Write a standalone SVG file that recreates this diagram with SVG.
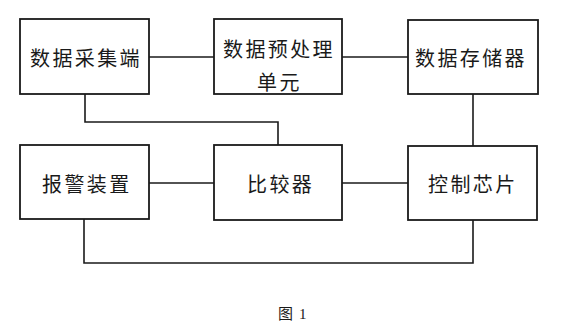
<svg xmlns="http://www.w3.org/2000/svg" width="569" height="334" viewBox="0 0 569 334">
<style>
.box{fill:#fff;stroke:#1a1a1a;stroke-width:1.8}
.ln{fill:none;stroke:#1a1a1a;stroke-width:1.6}
.t{font-family:"Noto Sans CJK SC","Noto Sans CJK JP",sans-serif;font-size:20px;fill:#1a1a1a;letter-spacing:2.4px}
.cap{font-family:"Liberation Serif","Noto Sans CJK SC",serif;font-size:15px;fill:#1a1a1a}
</style>
<rect width="569" height="334" fill="#fff"/>
<g id="connectors">
<line class="ln" x1="149" y1="57" x2="214" y2="57"/>
<line class="ln" x1="342" y1="57" x2="408" y2="57"/>
<polyline class="ln" points="85,94 85,122 278,122 278,145"/>
<line class="ln" x1="473" y1="94" x2="473" y2="146"/>
<line class="ln" x1="149" y1="183" x2="214" y2="183"/>
<line class="ln" x1="342" y1="183" x2="408" y2="183"/>
<polyline class="ln" points="84,219 84,263 473,263 473,220"/>
</g>
<g id="n1"><rect class="box" x="20" y="19" width="129" height="75"/><text class="t" x="30" y="65.5">数据采集端</text></g>
<g id="n2"><rect class="box" x="214" y="19" width="128" height="75"/><text class="t" x="223" y="56.5">数据预处理</text><text class="t" x="257" y="89.5">单元</text></g>
<g id="n3"><rect class="box" x="408" y="20" width="130" height="74"/><text class="t" x="415" y="65.5">数据存储器</text></g>
<g id="n4"><rect class="box" x="20" y="145" width="129" height="74"/><text class="t" x="42" y="191.5">报警装置</text></g>
<g id="n5"><rect class="box" x="214" y="145" width="128" height="75"/><text class="t" x="247" y="191.5">比较器</text></g>
<g id="n6"><rect class="box" x="408" y="146" width="129" height="74"/><text class="t" x="428" y="191.5">控制芯片</text></g>
<text class="cap" x="278" y="319">图<tspan x="299">1</tspan></text>
</svg>
